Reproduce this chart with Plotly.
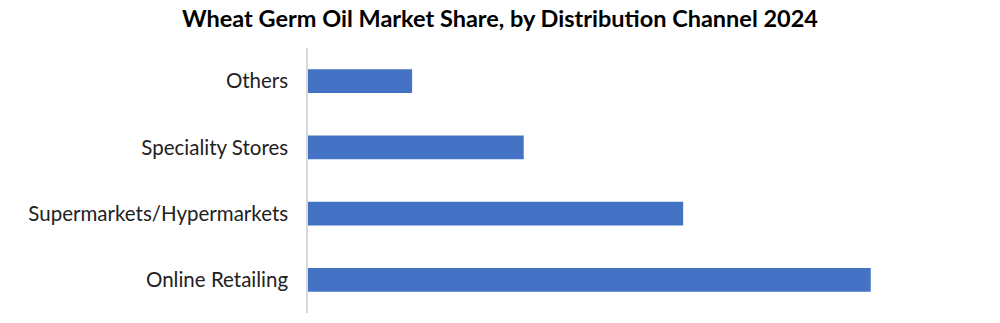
import plotly.graph_objects as go

categories = ["Online Retailing", "Supermarkets/Hypermarkets", "Speciality Stores", "Others"]
shares = [60, 40, 23, 11.1]
title_text = "Wheat Germ Oil Market Share, by Distribution Channel 2024"

fig = go.Figure(go.Bar(
    x=shares, y=categories, orientation="h",
    marker=dict(color="#4472C4", line=dict(width=0)),
    width=0.36,
))

fig.update_layout(
    width=1000, height=323,
    margin=dict(l=308, r=20, t=48, b=10),
    paper_bgcolor="white", plot_bgcolor="white",
    title=dict(text="<b>" + title_text + "</b>", x=0.5, xanchor="center",
               y=1 - 19/323, yanchor="middle",
               font=dict(family="Lato, Carlito, sans-serif", size=23.5, color="black")),
    font=dict(family="Lato, Carlito, sans-serif", size=20.5, color="#222222"),
    showlegend=False,
    bargap=0.64,
)
fig.update_xaxes(range=[0, 71.65], visible=False, showgrid=False, zeroline=False)
fig.update_yaxes(showline=True, linecolor="#D9D9D9", linewidth=1.5, showgrid=False,
                 ticks="", ticklabelstandoff=14, range=[-0.5, 3.5],
                 tickfont=dict(size=20.5, color="#222222"))

fig.write_html("out.html")
